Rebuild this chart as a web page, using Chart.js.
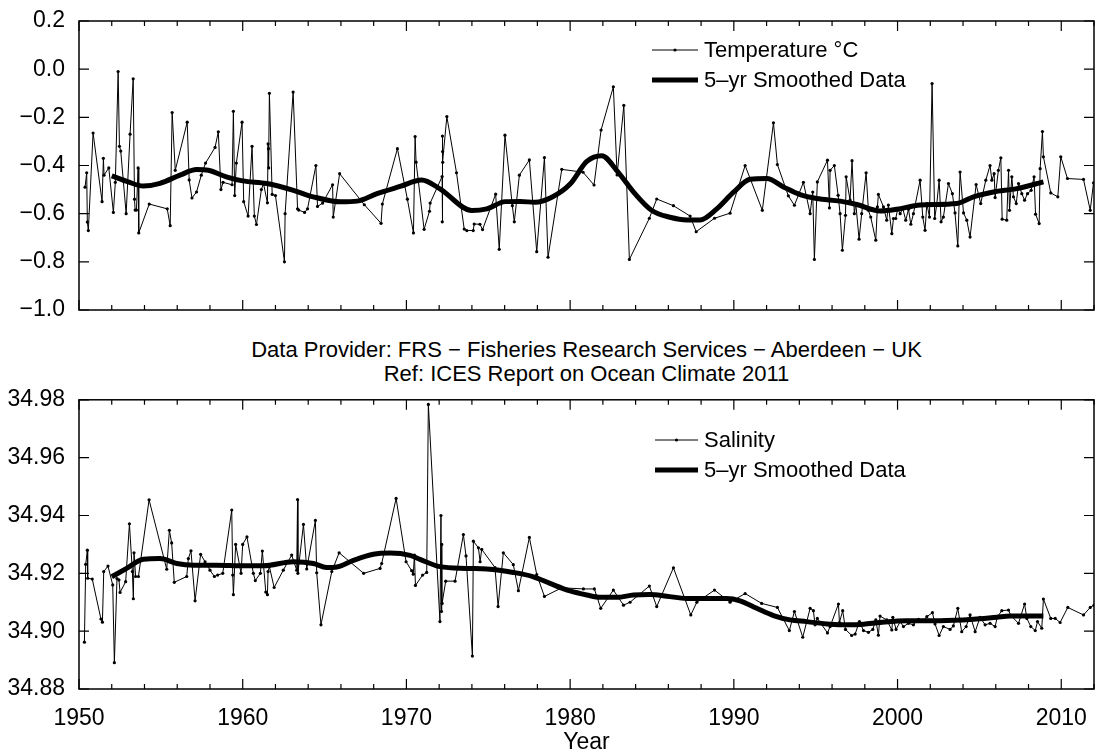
<!DOCTYPE html>
<html>
<head>
<meta charset="utf-8">
<title>Temperature and Salinity</title>
<script src="https://cdn.jsdelivr.net/npm/chart.js@4.4.0/dist/chart.umd.min.js"></script>
<style>
  body { margin: 0; background: #fff; overflow: hidden; }
  #wrap { position: relative; width: 1106px; height: 753px; background: #fff; overflow: hidden; }
  canvas { position: absolute; left: 0; }
  .note { position: absolute; left: 79px; width: 1015px; text-align: center;
          font: 22px "Liberation Sans", Arial, Helvetica, sans-serif; color: #000; line-height: 24px; }
</style>
</head>
<body>
<div id="wrap">
  <canvas id="temp" width="1106" height="330" style="top:0"></canvas>
  <div class="note" style="top:338px">Data Provider: FRS &minus; Fisheries Research Services &minus; Aberdeen &minus; UK</div>
  <div class="note" style="top:362px">Ref: ICES Report on Ocean Climate 2011</div>
  <canvas id="sal" width="1106" height="376" style="top:380px"></canvas>
</div>
<script>
// temperature, individual samples (decimal year, deg C)
const tempYears = [
  1950.37,1950.47,1950.51,1950.57,1950.86,1951.41,1951.49,1951.53,1951.82,1952.10,1952.22,1952.39,1952.47,1952.55,1952.88,
  1953.12,1953.31,1953.39,1953.43,1953.51,1953.61,1953.65,1954.29,1955.39,1955.57,1955.69,1955.88,1956.61,1956.73,1956.90,
  1957.18,1957.47,1957.73,1958.31,1958.51,1958.67,1958.80,1959.35,1959.43,1959.51,1959.61,1959.96,1960.06,1960.33,1960.57,
  1960.71,1960.84,1961.14,1961.27,1961.51,1961.55,1961.57,1961.59,1961.63,1961.80,1962.00,1962.55,1962.59,1963.08,1963.35,
  1963.42,1963.78,1963.96,1964.47,1964.57,1964.88,1965.49,1965.53,1965.92,1967.43,1968.45,1968.53,1969.45,1970.06,1970.43,
  1970.53,1970.59,1971.08,1971.41,1971.45,1972.18,1972.19,1972.20,1972.21,1972.22,1972.47,1973.06,1973.53,1973.69,1974.08,
  1974.14,1974.49,1974.65,1975.45,1975.67,1976.02,1976.47,1976.59,1976.90,1977.51,1977.96,1978.43,1978.65,1979.49,1980.79,
  1981.46,1981.89,1982.64,1982.87,1983.28,1983.62,1984.84,1985.29,1986.31,1987.33,1987.70,1988.82,1989.77,1990.69,1991.74,
  1992.42,1992.66,1993.33,1993.70,1994.25,1994.66,1994.82,1994.92,1995.10,1995.72,1995.84,1995.88,1996.14,1996.37,1996.49,
  1996.63,1996.82,1996.86,1997.10,1997.22,1997.36,1997.45,1997.65,1997.81,1998.08,1998.22,1998.36,1998.67,1998.77,1998.83,
  1999.14,1999.34,1999.44,1999.65,1999.75,1999.89,2000.01,2000.16,2000.32,2000.50,2000.67,2000.81,2000.97,2001.38,2001.54,
  2001.68,2001.79,2001.95,2002.11,2002.27,2002.40,2002.54,2002.66,2002.80,2003.11,2003.35,2003.51,2003.68,2003.82,2004.03,
  2004.23,2004.43,2004.80,2005.08,2005.39,2005.65,2005.76,2005.90,2005.96,2006.16,2006.31,2006.39,2006.67,2006.78,2006.84,
  2006.98,2007.08,2007.25,2007.39,2007.59,2007.76,2007.94,2008.16,2008.34,2008.43,2008.65,2008.71,2008.85,2008.91,2009.36,
  2009.79,2009.97,2010.38,2011.36,2011.77,2011.97
];
const tempValues = [
  -0.49,-0.43,-0.635,-0.67,-0.265,-0.55,-0.37,-0.44,-0.41,-0.595,-0.47,-0.01,-0.32,-0.34,-0.60,
  -0.27,-0.04,-0.54,-0.585,-0.585,-0.41,-0.68,-0.56,-0.58,-0.65,-0.18,-0.42,-0.22,-0.46,-0.535,
  -0.51,-0.44,-0.39,-0.325,-0.26,-0.50,-0.47,-0.48,-0.175,-0.525,-0.39,-0.22,-0.55,-0.61,-0.32,
  -0.61,-0.645,-0.50,-0.475,-0.555,-0.31,-0.33,-0.41,-0.10,-0.52,-0.525,-0.80,-0.60,-0.095,-0.58,
  -0.585,-0.595,-0.58,-0.40,-0.57,-0.556,-0.48,-0.614,-0.434,-0.563,-0.64,-0.56,-0.33,-0.54,-0.68,
  -0.28,-0.386,-0.665,-0.59,-0.556,-0.446,-0.634,-0.278,-0.342,-0.387,-0.197,-0.43,-0.664,-0.67,-0.67,
  -0.643,-0.644,-0.666,-0.519,-0.748,-0.274,-0.567,-0.634,-0.44,-0.377,-0.758,-0.367,-0.781,-0.416,-0.428,
  -0.481,-0.253,-0.073,-0.439,-0.15,-0.79,-0.619,-0.539,-0.567,-0.61,-0.675,-0.619,-0.598,-0.40,-0.586,
  -0.223,-0.396,-0.526,-0.565,-0.47,-0.60,-0.51,-0.79,-0.468,-0.378,-0.576,-0.42,-0.40,-0.524,-0.60,
  -0.752,-0.607,-0.447,-0.544,-0.38,-0.60,-0.558,-0.706,-0.60,-0.43,-0.586,-0.614,-0.71,-0.572,-0.52,
  -0.572,-0.627,-0.564,-0.683,-0.62,-0.62,-0.58,-0.60,-0.579,-0.627,-0.582,-0.644,-0.60,-0.461,-0.614,
  -0.669,-0.558,-0.614,-0.06,-0.62,-0.558,-0.461,-0.634,-0.614,-0.475,-0.517,-0.597,-0.734,-0.427,-0.597,
  -0.627,-0.697,-0.479,-0.558,-0.461,-0.40,-0.461,-0.434,-0.533,-0.42,-0.368,-0.623,-0.627,-0.42,-0.586,
  -0.447,-0.53,-0.558,-0.475,-0.517,-0.544,-0.517,-0.503,-0.447,-0.602,-0.641,-0.413,-0.259,-0.364,-0.514,
  -0.53,-0.364,-0.454,-0.458,-0.586,-0.472
];

// temperature, 5-year smoothed
const tempSmoothYears = [
  1952.0,1953.0,1953.93,1954.95,1956.17,1957.19,1957.9,1959.0,1960.0,1961.47,1963.1,1964.3,1966.0,1967.0,1968.2,
  1969.61,1970.93,1972.05,1973.99,1974.91,1976.03,1976.94,1977.86,1978.88,1980.0,1981.02,1981.93,1982.85,1983.97,
  1984.99,1986.1,1987.13,1987.94,1988.96,1989.98,1990.99,1992.01,1993.03,1994.05,1995.06,1996.49,1997.51,1998.93,
  1999.95,2001.38,2003.62,2004.64,2005.86,2007.28,2008.91
];
const tempSmoothValues = [
  -0.443,-0.468,-0.485,-0.474,-0.44,-0.417,-0.42,-0.447,-0.464,-0.475,-0.503,-0.53,-0.551,-0.548,-0.517,
  -0.487,-0.46,-0.497,-0.587,-0.58,-0.55,-0.549,-0.553,-0.532,-0.477,-0.383,-0.359,-0.421,-0.518,
  -0.587,-0.615,-0.626,-0.626,-0.58,-0.511,-0.457,-0.454,-0.489,-0.521,-0.537,-0.548,-0.562,-0.589,
  -0.582,-0.564,-0.558,-0.53,-0.51,-0.496,-0.468
];

// salinity, individual samples
const salYears = [
  1950.33,1950.41,1950.51,1950.53,1950.81,1951.34,1951.43,1951.51,1951.77,1952.06,1952.16,1952.32,1952.44,1952.51,1952.85,
  1953.08,1953.26,1953.32,1953.36,1953.46,1953.63,1954.28,1955.36,1955.52,1955.66,1955.82,1956.58,1956.68,1956.84,1957.09,
  1957.43,1957.70,1958.00,1958.27,1958.47,1958.78,1959.33,1959.39,1959.43,1959.57,1959.90,1960.00,1960.26,1960.65,1960.77,
  1961.08,1961.20,1961.41,1961.51,1961.55,1961.63,1961.92,1962.48,1962.99,1963.30,1963.35,1963.37,1963.71,1963.91,1964.44,
  1964.52,1964.78,1965.44,1965.89,1967.39,1968.39,1968.49,1969.37,1969.98,1970.32,1970.42,1970.49,1970.55,1970.99,1971.24,
  1971.34,1972.05,1972.11,1972.14,1972.16,1972.18,1972.40,1972.97,1973.48,1973.64,1974.03,1974.09,1974.40,1974.50,1974.60,
  1975.41,1975.60,1975.92,1976.53,1976.84,1977.51,1977.96,1978.43,1979.49,1980.81,1981.48,1981.87,1982.64,1983.26,1983.66,
  1984.84,1985.29,1986.31,1987.37,1987.74,1988.82,1989.77,1990.69,1991.70,1992.66,1993.39,1993.70,1994.21,1994.66,1994.86,
  1994.96,1995.10,1995.72,1995.88,1996.39,1996.45,1996.65,1996.82,1997.20,1997.41,1997.67,1997.92,1998.22,1998.49,1998.67,
  1998.83,1998.93,1999.34,1999.65,1999.71,1999.91,2000.16,2000.36,2000.67,2000.97,2001.28,2001.58,2001.79,2002.13,2002.29,
  2002.54,2002.80,2003.21,2003.41,2003.68,2003.92,2004.19,2004.43,2004.74,2005.04,2005.35,2005.65,2005.96,2006.10,2006.37,
  2006.78,2006.92,2007.39,2007.76,2007.90,2008.14,2008.41,2008.55,2008.81,2008.91,2009.36,2009.63,2009.93,2010.40,2011.36,
  2011.77,2012.0
];
const salValues = [
  34.8962,34.9231,34.928,34.9183,34.918,34.9042,34.9031,34.9206,34.9225,34.916,34.8891,34.9182,34.9177,34.9134,34.9171,
  34.9371,34.9206,34.9112,34.9271,34.9189,34.9189,34.9454,34.9214,34.9349,34.9305,34.9169,34.9189,34.9251,34.9278,34.9105,
  34.9266,34.924,34.9211,34.9189,34.9194,34.92,34.9419,34.9194,34.9126,34.93,34.92,34.93,34.9326,34.92,34.9175,
  34.92,34.9277,34.9135,34.9126,34.9206,34.9223,34.9151,34.9211,34.9263,34.9211,34.9455,34.92,34.9369,34.9215,34.9383,
  34.9202,34.9022,34.9206,34.9271,34.92,34.9217,34.9234,34.9459,34.924,34.9209,34.9197,34.9263,34.9158,34.9194,34.9203,
  34.9784,34.9033,34.94,34.9068,34.93,34.9096,34.9173,34.9173,34.9334,34.926,34.8914,34.9311,34.9288,34.924,34.9283,
  34.922,34.9085,34.9271,34.923,34.914,34.9324,34.9196,34.912,34.915,34.9146,34.9146,34.9079,34.9142,34.909,34.91,
  34.9156,34.9085,34.9219,34.9056,34.91,34.9142,34.91,34.913,34.9096,34.9082,34.9002,34.9068,34.8979,34.9079,34.9071,
  34.9022,34.9044,34.8994,34.9016,34.9094,34.903,34.9071,34.9006,34.8985,34.899,34.9033,34.9002,34.8996,34.9006,34.9039,
  34.8986,34.9052,34.9039,34.9004,34.9048,34.9006,34.9033,34.9016,34.9027,34.9022,34.9041,34.9037,34.905,34.9064,34.9025,
  34.8985,34.9016,34.9006,34.9018,34.9079,34.8998,34.9016,34.9056,34.8998,34.9048,34.9022,34.9027,34.9016,34.905,34.9071,
  34.9073,34.9054,34.9027,34.9094,34.9044,34.9016,34.9002,34.9033,34.901,34.9111,34.9044,34.9044,34.903,34.9082,34.9056,
  34.9082,34.909
];

// salinity, 5-year smoothed
const salSmoothYears = [
  1952.0,1952.91,1953.93,1954.95,1955.97,1956.99,1958.41,1960.04,1961.26,1963.10,1964.32,1965.13,1965.74,1966.76,1967.98,
  1969.0,1970.22,1970.83,1972.05,1973.68,1974.91,1976.53,1977.76,1978.77,1980.0,1981.02,1981.83,1982.85,1983.87,1984.88,
  1985.9,1987.13,1988.35,1989.57,1990.38,1991.40,1992.42,1993.43,1994.45,1995.88,1997.1,1997.92,1998.93,2000.56,2002.6,
  2004.64,2006.06,2006.88,2008.91
];
const salSmoothValues = [
  34.9188,34.9217,34.9249,34.9251,34.9234,34.9228,34.9228,34.9226,34.9226,34.924,34.9234,34.922,34.9222,34.9245,34.9266,
  34.927,34.9262,34.9248,34.9223,34.9217,34.9215,34.9203,34.9188,34.9165,34.9139,34.9125,34.9117,34.9117,34.9125,34.9127,
  34.9121,34.9113,34.9113,34.9113,34.9105,34.9079,34.9054,34.9039,34.9033,34.9024,34.9022,34.9024,34.903,34.9036,34.9036,
  34.9041,34.9048,34.9052,34.9052
];

// axis ticks
const yearTicks = [1950, 1960, 1970, 1980, 1990, 2000, 2010];
const tempTicks = [0.2, 0.0, -0.2, -0.4, -0.6, -0.8, -1.0];
const salTicks = [34.88, 34.90, 34.92, 34.94, 34.96, 34.98];

const FONT = '"Liberation Sans", Arial, Helvetica, sans-serif';
Chart.defaults.font.family = FONT;
Chart.defaults.color = '#000';

function pts(xs, ys) {
  return xs.map((x, i) => ({ x: x, y: ys[i] }));
}

function fmt(v, d) {
  if (Math.abs(v) < 1e-9) v = 0;
  return v.toFixed(d).replace('-', '\u2212');
}

// box round the plot with inward tick marks on all four sides
const frameTicks = {
  id: 'frameTicks',
  afterDatasetsDraw(chart) {
    const ctx = chart.ctx, a = chart.chartArea;
    const x = chart.scales.x, y = chart.scales.y;
    ctx.save();
    ctx.strokeStyle = '#000';
    ctx.lineWidth = 1.2;
    ctx.beginPath();
    for (let yr = 1950; yr <= 2012; yr += 2) {
      const px = x.getPixelForValue(yr);
      const len = yr % 10 === 0 ? 10 : 5;
      ctx.moveTo(px, a.bottom); ctx.lineTo(px, a.bottom - len);
      ctx.moveTo(px, a.top); ctx.lineTo(px, a.top + len);
    }
    y.ticks.forEach(t => {
      const py = y.getPixelForValue(t.value);
      ctx.moveTo(a.left, py); ctx.lineTo(a.left + 10, py);
      ctx.moveTo(a.right, py); ctx.lineTo(a.right - 10, py);
    });
    ctx.stroke();
    ctx.lineWidth = 1.5;
    ctx.strokeRect(a.left, a.top, a.right - a.left, a.bottom - a.top);
    ctx.restore();
  }
};

// legend drawn inside the plot, like the original
const boxLegend = {
  id: 'boxLegend',
  afterDatasetsDraw(chart, args, opts) {
    const ctx = chart.ctx;
    ctx.save();
    ctx.font = '22px ' + FONT;
    ctx.textBaseline = 'middle';
    ctx.fillStyle = '#000';
    chart.data.datasets.forEach((ds, i) => {
      const yy = opts.y + i * opts.gap;
      ctx.strokeStyle = '#000';
      ctx.lineWidth = ds.borderWidth;
      ctx.beginPath();
      ctx.moveTo(opts.x0, yy);
      ctx.lineTo(opts.x1, yy);
      ctx.stroke();
      if (ds.pointRadius > 0) {
        ctx.beginPath();
        ctx.arc((opts.x0 + opts.x1) / 2, yy, 1.6, 0, Math.PI * 2);
        ctx.fill();
      }
      ctx.fillText(ds.label, opts.x1 + 6, yy + 1);
    });
    ctx.restore();
  }
};

function makeChart(id, raw, rawLabel, smooth, yMin, yMax, yTicks, dec, showX, legendPos, pad) {
  return new Chart(document.getElementById(id), {
    type: 'line',
    data: {
      datasets: [
        {
          label: rawLabel,
          data: raw,
          borderColor: '#000',
          borderWidth: 1,
          pointRadius: 1.6,
          pointBackgroundColor: '#000',
          pointBorderWidth: 0,
          tension: 0,
          order: 1
        },
        {
          label: '5\u2013yr Smoothed Data',
          data: smooth,
          borderColor: '#000',
          borderWidth: 5,
          pointRadius: 0,
          cubicInterpolationMode: 'monotone',
          order: 0
        }
      ]
    },
    options: {
      responsive: false,
      animation: false,
      events: [],
      layout: { padding: pad },
      scales: {
        x: {
          type: 'linear',
          min: 1950,
          max: 2012,
          grid: { display: false },
          border: { display: false },
          afterBuildTicks: s => { s.ticks = yearTicks.map(v => ({ value: v })); },
          afterFit: s => { s.height = showX ? 67 : 20; },
          ticks: {
            display: showX,
            padding: 8,
            font: { size: 23 },
            color: '#000',
            callback: v => String(v)
          },
          title: {
            display: showX,
            text: 'Year',
            font: { size: 23 },
            color: '#000',
            padding: { top: 0, bottom: 0 }
          }
        },
        y: {
          min: yMin,
          max: yMax,
          grid: { display: false },
          border: { display: false },
          afterBuildTicks: s => { s.ticks = yTicks.map(v => ({ value: v })); },
          afterFit: s => { s.width = 79; },
          ticks: {
            padding: 6,
            font: { size: 23 },
            color: '#000',
            callback: v => fmt(v, dec)
          }
        }
      },
      plugins: {
        legend: { display: false },
        tooltip: { enabled: false },
        boxLegend: legendPos
      }
    },
    plugins: [frameTicks, boxLegend]
  });
}

makeChart('temp', pts(tempYears, tempValues), 'Temperature \u00b0C', pts(tempSmoothYears, tempSmoothValues),
  -1.0, 0.2, tempTicks, 1, false,
  { x0: 652, x1: 698, y: 50, gap: 30 },
  { top: 21, right: 12, bottom: 0, left: 0 });

makeChart('sal', pts(salYears, salValues), 'Salinity', pts(salSmoothYears, salSmoothValues),
  34.88, 34.98, salTicks, 2, true,
  { x0: 655, x1: 698, y: 60, gap: 30 },
  { top: 19, right: 12, bottom: 0, left: 0 });
</script>
</body>
</html>
